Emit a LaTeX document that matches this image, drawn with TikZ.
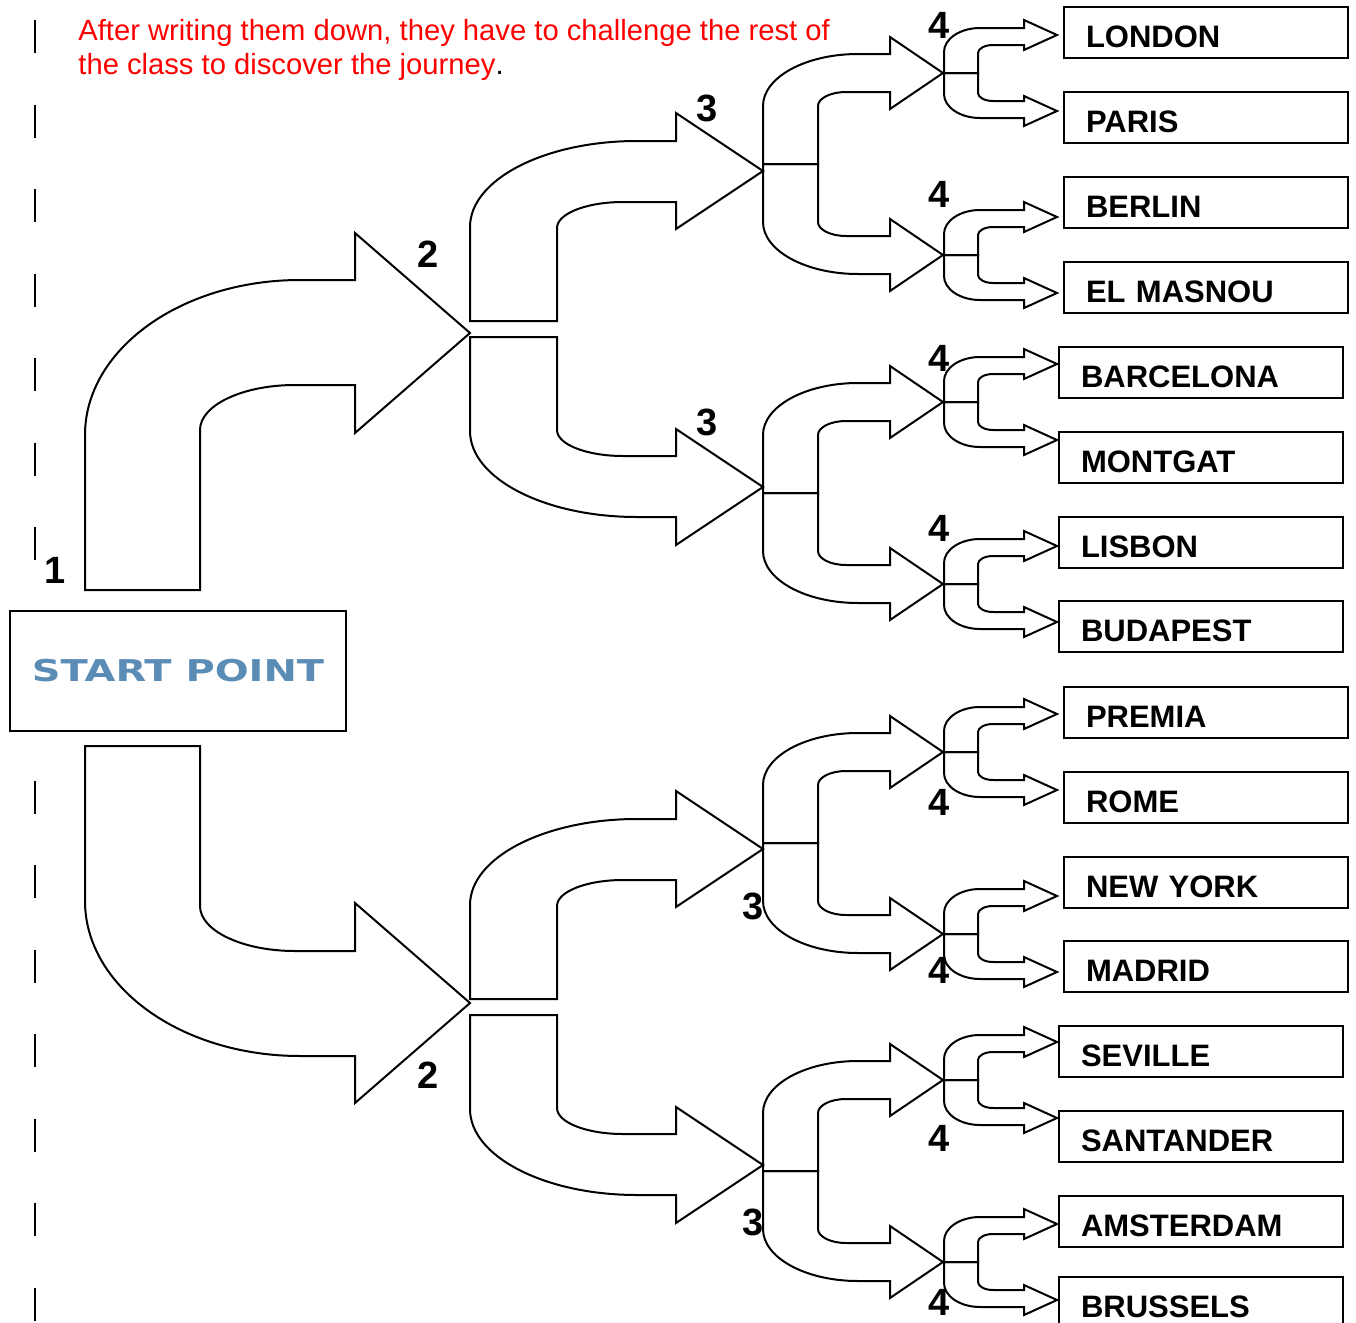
\documentclass[tikz,border=0pt]{standalone}
\usepackage{fontspec}
\usepackage{graphicx}
\setmainfont{Liberation Sans}
\newfontfamily\startfont{DejaVu Sans}
\definecolor{startblue}{RGB}{91,140,182}
\tikzset{
	arrowstyle/.style={draw=black,line width=1pt,line join=miter},
	citystyle/.style={rectangle,draw=black,line width=1pt,anchor=north west,inner xsep=11pt,inner ysep=0pt,text width=120pt,text height=20pt,text depth=5.5pt,align=left,font=\fontsize{15.5}{18}\selectfont\bfseries},
	stepstyle/.style={inner sep=0pt,font=\fontsize{19}{22}\selectfont\bfseries},
	startstyle/.style={rectangle,draw=black,fill=white,line width=1pt,minimum width=168pt,minimum height=60pt,inner sep=0pt,text=startblue,font=\startfont\fontsize{15}{18}\selectfont\bfseries},
	notestyle/.style={anchor=north west,inner sep=0pt,align=left,text=red,font=\fontsize{14.6}{17}\selectfont},
	dashstyle/.style={line width=1pt,dash pattern=on 16.5pt off 25.75pt}
}
% bent arrows, one per level; #1 = foot of the stem, #2 = 1 up / -1 down
\newcommand{\arrowone}[2]{\draw[arrowstyle,shift={#1},yscale=#2] (0,0) -- (0,-155) .. controls (0,-240.6) and (96.3,-310) .. (215,-310) -- (270,-310) -- (270,-357) -- (385,-257) -- (270,-157) -- (270,-205) -- (210,-205) .. controls (157.6,-205) and (115,-184.8) .. (115,-160) -- (115,0) -- cycle;}
\newcommand{\arrowtwo}[2]{\draw[arrowstyle,shift={#1},yscale=#2] (0,0) -- (0,-94) .. controls (0,-141.5) and (74.8,-180) .. (167,-180) -- (206,-180) -- (206,-208) -- (293,-150) -- (206,-92) -- (206,-119) -- (153,-119) .. controls (116.6,-119) and (87,-107.4) .. (87,-93) -- (87,0) -- cycle;}
\newcommand{\arrowthree}[2]{\draw[arrowstyle,shift={#1},yscale=#2] (0,0) -- (0,-58) .. controls (0,-86.7) and (42.6,-110) .. (95,-110) -- (127,-110) -- (127,-127) -- (180,-91) -- (127,-55) -- (127,-72) -- (83,-72) .. controls (67.5,-72) and (55,-65.7) .. (55,-58) -- (55,0) -- cycle;}
\newcommand{\arrowfour}[2]{\draw[arrowstyle,shift={#1},yscale=#2] (0,0) -- (0,-21) .. controls (0,-34.2) and (16.1,-45) .. (36,-45) -- (80,-45) -- (80,-53) -- (113,-38) -- (80,-23) -- (80,-28) -- (49,-28) .. controls (40.7,-28) and (34,-24.4) .. (34,-20) -- (34,0) -- cycle;}

\begin{document}
\begin{tikzpicture}[x=0.5pt,y=-0.5pt]
	\useasboundingbox (0,0) rectangle (1356,1323);
	% margin line
	\draw[dashstyle] (35,20) -- (35,1323);
	\node[notestyle] (note) at (78,19) {After writing them down, they have to challenge the rest of\\the class to discover the journey\textcolor{black}{.}};
	\node[startstyle] (start) at (178,671) {\scalebox{1.33}[1]{START POINT}};
	% level 1
	\arrowone{(85,590)}{1}
	\arrowone{(85,746)}{-1}
	% level 2
	\arrowtwo{(470,321)}{1}
	\arrowtwo{(470,337)}{-1}
	\arrowtwo{(470,999)}{1}
	\arrowtwo{(470,1015)}{-1}
	% level 3
	\arrowthree{(763,164)}{1}
	\arrowthree{(763,164)}{-1}
	\arrowthree{(763,493)}{1}
	\arrowthree{(763,493)}{-1}
	\arrowthree{(763,843)}{1}
	\arrowthree{(763,843)}{-1}
	\arrowthree{(763,1171)}{1}
	\arrowthree{(763,1171)}{-1}
	% level 4
	\arrowfour{(944,73)}{1}
	\arrowfour{(944,73)}{-1}
	\arrowfour{(944,255)}{1}
	\arrowfour{(944,255)}{-1}
	\arrowfour{(944,402)}{1}
	\arrowfour{(944,402)}{-1}
	\arrowfour{(944,584)}{1}
	\arrowfour{(944,584)}{-1}
	\arrowfour{(944,752)}{1}
	\arrowfour{(944,752)}{-1}
	\arrowfour{(944,934)}{1}
	\arrowfour{(944,934)}{-1}
	\arrowfour{(944,1080)}{1}
	\arrowfour{(944,1080)}{-1}
	\arrowfour{(944,1262)}{1}
	\arrowfour{(944,1262)}{-1}
	% cities
	\node[citystyle] (london) at (1063,6) {LONDON};
	\node[citystyle] (paris) at (1063,91) {PARIS};
	\node[citystyle] (berlin) at (1063,176) {BERLIN};
	\node[citystyle] (elmasnou) at (1063,261) {EL MASNOU};
	\node[citystyle] (barcelona) at (1058,346) {BARCELONA};
	\node[citystyle] (montgat) at (1058,431) {MONTGAT};
	\node[citystyle] (lisbon) at (1058,516) {LISBON};
	\node[citystyle] (budapest) at (1058,600) {BUDAPEST};
	\node[citystyle] (premia) at (1063,686) {PREMIA};
	\node[citystyle] (rome) at (1063,771) {ROME};
	\node[citystyle] (newyork) at (1063,856) {NEW YORK};
	\node[citystyle] (madrid) at (1063,940) {MADRID};
	\node[citystyle] (seville) at (1058,1025) {SEVILLE};
	\node[citystyle] (santander) at (1058,1110) {SANTANDER};
	\node[citystyle] (amsterdam) at (1058,1195) {AMSTERDAM};
	\node[citystyle] (brussels) at (1058,1276) {BRUSSELS};
	% step numbers
	\node[stepstyle] (s1) at (55,570) {1};
	\node[stepstyle] (s2a) at (428,254) {2};
	\node[stepstyle] (s2b) at (428,1075) {2};
	\node[stepstyle] (s3a) at (707,108) {3};
	\node[stepstyle] (s3b) at (707,422) {3};
	\node[stepstyle] (s3c) at (753,906) {3};
	\node[stepstyle] (s3d) at (753,1222) {3};
	\node[stepstyle] (s4a) at (939,25) {4};
	\node[stepstyle] (s4b) at (939,194) {4};
	\node[stepstyle] (s4c) at (939,358) {4};
	\node[stepstyle] (s4d) at (939,528) {4};
	\node[stepstyle] (s4e) at (939,802) {4};
	\node[stepstyle] (s4f) at (939,970) {4};
	\node[stepstyle] (s4g) at (939,1138) {4};
	\node[stepstyle] (s4h) at (939,1302) {4};
\end{tikzpicture}
\end{document}
